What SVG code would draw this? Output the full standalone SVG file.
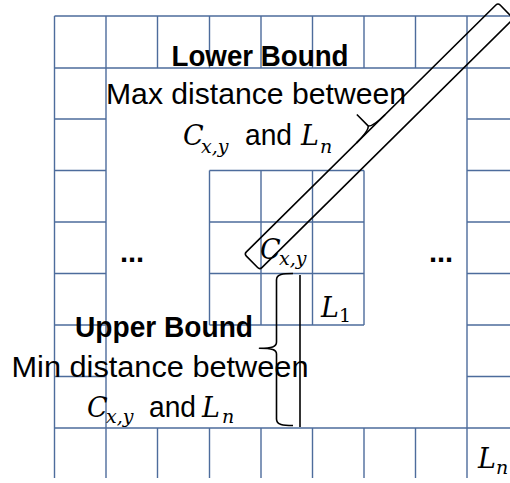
<svg xmlns="http://www.w3.org/2000/svg" width="510" height="483" viewBox="0 0 510 483">
<style>
.grid{fill:none;stroke:#4d6c9c;stroke-width:1.4}
.ln{fill:none;stroke:#000;stroke-width:1.6;stroke-linejoin:round}
.t{font-family:"Liberation Sans",Arial,sans-serif;font-size:29px;fill:#000}
.b{font-weight:bold}
.mi{font-family:"DejaVu Serif","Liberation Serif",serif;font-style:italic;font-size:27px;fill:#000}
.sub{font-size:19px}
.num{font-family:"DejaVu Serif","Liberation Serif",serif;font-size:19px;fill:#000}
</style>
<rect width="510" height="483" fill="#fff"/>
<g id="grid" class="grid">
<path d="M54.5,16H510M54.5,68H510M54.5,428H510
M54.5,119H106M54.5,170.5H106M54.5,222H106M54.5,273.5H106M54.5,325H106M54.5,376.5H106
M467,119H510M467,170.5H510M467,222H510M467,273.5H510M467,325H510M467,376.5H510
M54.5,16V478M106,16V478M467,16V478
M157.5,16V68M209.5,16V68M261,16V68M312.5,16V68M364,16V68M415.5,16V68
M157.5,428V478M209.5,428V478M261,428V478M312.5,428V478M364,428V478M415.5,428V478"/>
</g>
<g id="inner-block" class="grid">
<path d="M209.5,170.5H364M209.5,222H364M209.5,273.5H364M209.5,325H364
M209.5,170.5V325M261,170.5V325M312.5,170.5V325M364,170.5V325"/>
</g>
<g id="connectors">
<g id="lower-bound-bar" transform="translate(252,261.85) rotate(-44.7)">
<rect class="ln" x="0" y="-11" width="357" height="22" rx="3"/>
<path class="ln" d="M158,-11Q176,-11 178.2,-15L178.2,-31M178.2,-15Q180.5,-11 198,-11"/>
</g>
<g id="upper-bound-brace">
<path class="ln" d="M293,273.5C283,273.5 276.5,274 276.5,280L276.5,342C276.5,347 272,348.3 259.5,348.3C272,348.3 276.5,349.5 276.5,354L276.5,419C276.5,425 283,425.5 293,425.5"/>
<path class="ln" d="M300,275V427"/>
</g>
</g>
<g id="lower-bound-label">
<text class="t b" x="260" y="65.5" text-anchor="middle" textLength="177" lengthAdjust="spacingAndGlyphs">Lower Bound</text>
<text class="t" x="256" y="104" text-anchor="middle" textLength="300" lengthAdjust="spacingAndGlyphs">Max distance between</text>
<text class="mi" x="183" y="145">C</text>
<text class="mi sub" x="201" y="153">x,y</text>
<text class="t" x="245" y="145" textLength="47" lengthAdjust="spacingAndGlyphs">and</text>
<text class="mi" x="301" y="145">L</text>
<text class="mi sub" x="320" y="153">n</text>
</g>
<g id="upper-bound-label">
<text class="t b" x="164" y="336.5" text-anchor="middle" textLength="178" lengthAdjust="spacingAndGlyphs">Upper Bound</text>
<text class="t" x="160" y="376.5" text-anchor="middle" textLength="297" lengthAdjust="spacingAndGlyphs">Min distance between</text>
<text class="mi" x="87" y="416.5">C</text>
<text class="mi sub" x="106" y="423">x,y</text>
<text class="t" x="149" y="416.5" textLength="47" lengthAdjust="spacingAndGlyphs">and</text>
<text class="mi" x="202" y="416.5">L</text>
<text class="mi sub" x="222" y="423">n</text>
</g>
<g id="cell-c">
<text class="mi" x="260" y="259">C</text>
<text class="mi sub" x="279" y="265">x,y</text>
</g>
<g id="cell-l1">
<text class="mi" x="321" y="317">L</text>
<text class="num" x="339" y="322">1</text>
</g>
<g id="cell-ln">
<text class="mi" x="478" y="468">L</text>
<text class="mi sub" x="496" y="474">n</text>
</g>
<g id="ellipses">
<text class="t b" x="132" y="262" text-anchor="middle">...</text>
<text class="t b" x="441" y="262" text-anchor="middle">...</text>
</g>
</svg>
